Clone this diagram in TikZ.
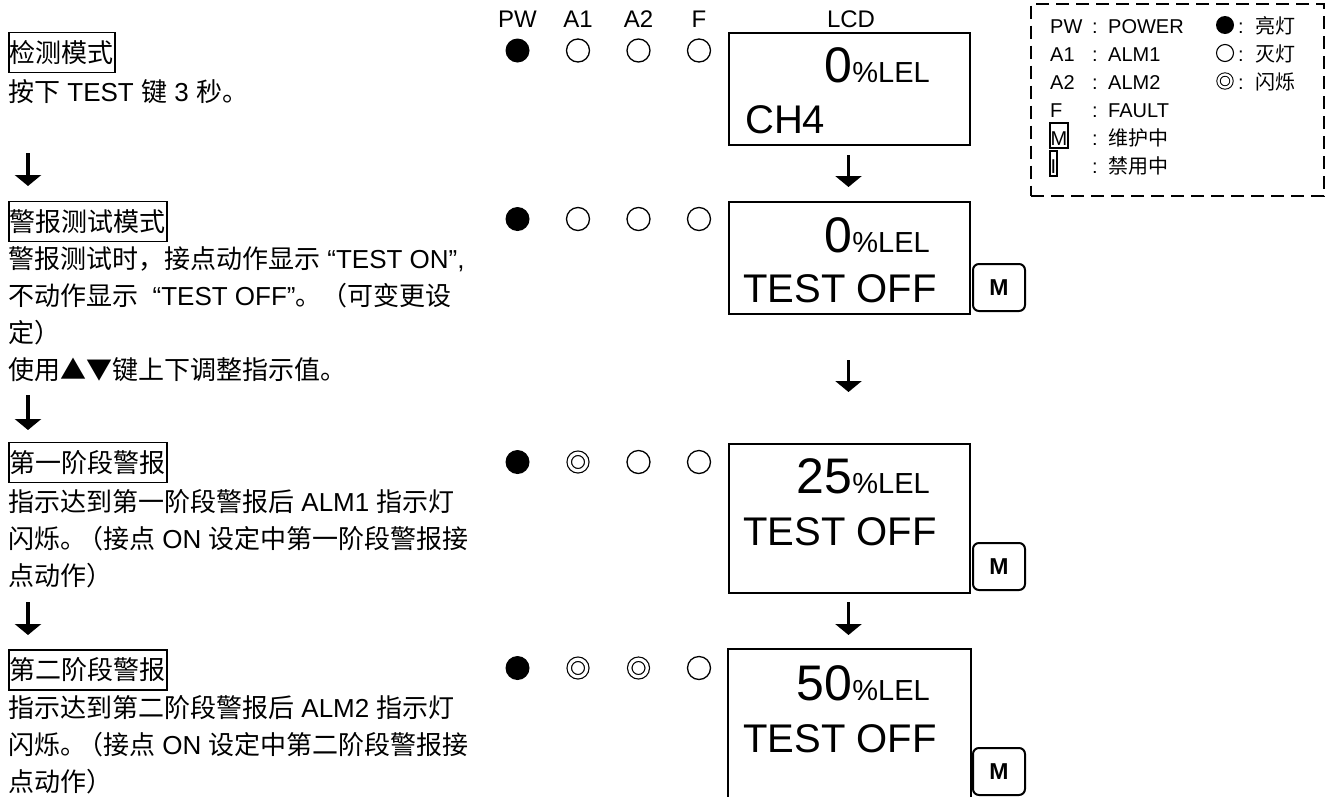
\documentclass[tikz,border=0pt]{standalone}
\usepackage{fontspec}
\setmainfont{Liberation Sans}
\newfontfamily\cjk{Noto Sans CJK SC}
\usetikzlibrary{arrows.meta,calc}
\newcommand{\rdg}[1]{{\fontsize{50}{50}\selectfont #1}{\fontsize{29}{29}\selectfont\%LEL}}
\tikzset{
  ttl/.style={draw,line width=1.8pt,inner xsep=1pt,inner ysep=0pt,minimum height=40pt,anchor=west,font=\fontsize{26}{37}\selectfont\cjk},
  body/.style={anchor=base west,align=left,inner sep=0pt,font=\fontsize{26}{37}\selectfont},
  flow/.style={line width=3.6pt,-{Triangle[width=26pt,length=11pt]}},
  ledon/.style={circle,fill=black,inner sep=0pt,minimum size=24pt},
  ledoff/.style={circle,draw,line width=1.3pt,inner sep=0pt,minimum size=23pt},
  ledblk/.style={circle,draw,double,double distance=3.2pt,line width=1.2pt,inner sep=0pt,minimum size=17.5pt},
  keyon/.style={circle,fill=black,inner sep=0pt,minimum size=18pt},
  keyoff/.style={circle,draw,line width=1.1pt,inner sep=0pt,minimum size=17pt},
  keyblk/.style={circle,draw,double,double distance=2.3pt,line width=1pt,inner sep=0pt,minimum size=13pt},
  lcd/.style={draw,line width=2pt,inner sep=0pt,anchor=north west},
  rd/.style={anchor=base east,inner sep=0pt},
  st/.style={anchor=base west,inner sep=0pt,font=\fontsize{40}{40}\selectfont},
  mkey/.style={draw,line width=2pt,rounded corners=6pt,minimum width=52pt,minimum height=47pt,font=\fontsize{23}{23}\selectfont\bfseries},
  hdr/.style={font=\fontsize{24}{24}\selectfont},
  lgd/.style={anchor=base west,inner sep=0pt,font=\fontsize{20}{20}\selectfont},
  lgbox/.style={draw,line width=1.5pt,inner sep=0.8pt,text height=21pt,text depth=2pt},
}
\begin{document}
\begin{tikzpicture}[x=1pt,y=-1pt]
  \useasboundingbox (0,0) rectangle (1331,796);
  % left column (a multi-line node sits on its last baseline)
  \node[ttl] (h1) at (8,52.5) {检测模式};
  \node[body] (t1) at (8,101) {{\cjk 按下} TEST {\cjk 键} 3 {\cjk 秒。}};
  \node[ttl] (h2) at (8,221.5) {警报测试模式};
  \node[body] (t2) at (8,379)
    {{\cjk 警报测试时，接点动作显示} “TEST ON”,\\
     {\cjk 不动作显示}\ \ “TEST OFF”{\cjk 。（可变更设}\\
     {\cjk 定）}\\
     {\cjk 使用▲▼键上下调整指示值。}};
  \node[ttl] (h3) at (8,462.5) {第一阶段警报};
  \node[body] (t3) at (8,585)
    {{\cjk 指示达到第一阶段警报后} ALM1 {\cjk 指示灯}\\
     {\cjk 闪烁。}\hspace{-9pt}{\cjk （接点} ON {\cjk 设定中第一阶段警报接}\\
     {\cjk 点动作）}};
  \node[ttl] (h4) at (8,670) {第二阶段警报};
  \node[body] (t4) at (8,791)
    {{\cjk 指示达到第二阶段警报后} ALM2 {\cjk 指示灯}\\
     {\cjk 闪烁。}\hspace{-9pt}{\cjk （接点} ON {\cjk 设定中第二阶段警报接}\\
     {\cjk 点动作）}};
  \foreach \a/\b [count=\i] in {153/186,395/430,602/635} {
    \coordinate (ls\i) at (28,\a);
    \coordinate (le\i) at (28,\b);
    \draw[flow] (ls\i) -- (le\i);
  }
  % lamps
  \foreach \t/\x in {PW/517.5,A1/578,A2/638.5,F/699,LCD/851}
    \node[hdr] (hd\t) at (\x,19.5) {\t};
  \newcommand{\leds}[3]{%
    \foreach \s [count=\i] in {#3}
      \node[\s] (#1l\i) at ({457+60.5*\i},#2) {};}
  \leds{ra}{50.5}{ledon,ledoff,ledoff,ledoff}
  \leds{rb}{219}{ledon,ledoff,ledoff,ledoff}
  \leds{rc}{462}{ledon,ledblk,ledoff,ledoff}
  \leds{rd}{668}{ledon,ledblk,ledblk,ledoff}
  % displays
  \node[lcd,minimum width=241pt,minimum height=112pt] (lcdA) at (728,32) {};
  \node[rd] (vA) at (930,82) {\rdg{0}};
  \node[st] (sA) at (745,133) {CH4};
  \node[lcd,minimum width=241pt,minimum height=112pt] (lcdB) at (728,201) {};
  \node[rd] (vB) at (930,252) {\rdg{0}};
  \node[st] (sB) at (743,302) {TEST OFF};
  \node[mkey] (mB) at (999,287.5) {M};
  \node[lcd,minimum width=241pt,minimum height=149pt] (lcdC) at (728,443) {};
  \node[rd] (vC) at (930,493) {\rdg{25}};
  \node[st] (sC) at (743,545) {TEST OFF};
  \node[mkey] (mC) at (999,566.5) {M};
  \node[lcd,draw=none,minimum width=241pt,minimum height=150pt] (lcdD) at (728,649) {};
  \draw[line width=2pt] (lcdD.south west) |- (lcdD.north east) -- (lcdD.south east);
  \node[rd] (vD) at (930,700) {\rdg{50}};
  \node[st] (sD) at (743,752) {TEST OFF};
  \node[mkey] (mD) at (999,771.5) {M};
  \foreach \a/\b [count=\i] in {155/187,360/392,602/635} {
    \coordinate (rs\i) at (848.5,\a);
    \coordinate (re\i) at (848.5,\b);
    \draw[flow] (rs\i) -- (re\i);
  }
  % legend
  \node[draw,line width=2.2pt,dash pattern=on 13pt off 7pt,minimum width=293pt,minimum height=192pt,anchor=north west] (leg) at (1030,2.5) {};
  \foreach \k/\v [count=\i] in {PW/POWER,A1/ALM1,A2/ALM2,F/FAULT} {
    \node[lgd] (lk\i) at (1050,{5+28*\i}) {\k};
    \node[lgd,anchor=base] (lc\i) at (1095,{5+28*\i}) {:};
    \node[lgd] (lv\i) at (1108,{5+28*\i}) {\v};
  }
  \node[lgd,lgbox] (lk5) at (1049,145) {M};
  \node[lgd,anchor=base] (lc5) at (1095,145) {:};
  \node[lgd] (lv5) at (1108,145) {\cjk 维护中};
  \node[lgd,lgbox] (lk6) at (1049,173) {I};
  \node[lgd,anchor=base] (lc6) at (1095,173) {:};
  \node[lgd] (lv6) at (1108,173) {\cjk 禁用中};
  \foreach \s/\v [count=\i] in {keyon/亮灯,keyoff/灭灯,keyblk/闪烁} {
    \node[\s] (sy\i) at (1225,{-3+28*\i}) {};
    \node[lgd,anchor=base] (sc\i) at (1241,{5+28*\i}) {:};
    \node[lgd] (sv\i) at (1255,{5+28*\i}) {\cjk \v};
  }
\end{tikzpicture}
\end{document}
